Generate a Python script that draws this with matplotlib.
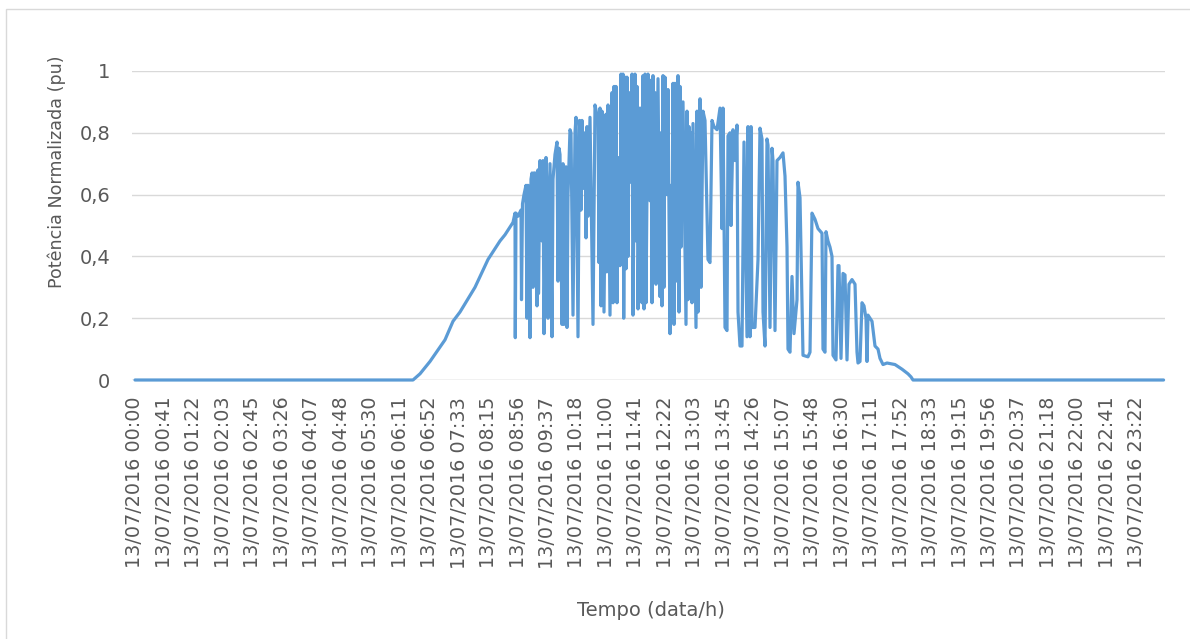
import matplotlib
matplotlib.use("Agg")
import matplotlib.pyplot as plt
from matplotlib.patches import Rectangle

# ---- data: time (minutes after 13/07/2016 00:00) and normalized power (pu)
tempo_min = [
    0, 389.2, 399, 413, 434, 445.2, 455, 476, 494.2, 511, 518,
    529.2, 532, 532.4, 533.4, 536.2, 540.4, 541.1, 542.5, 544.6, 547.4,
    548.8, 550.2, 551.6, 553, 554.4, 555.8, 557.2, 558.6, 560, 562.8,
    564.2, 564.9, 567, 569.8, 571.2, 572.6, 575.4, 576.8, 578.2, 581,
    583.8, 585.2, 588, 590.8, 592.2, 593.6, 595, 597.8, 599.2, 600.6,
    603.4, 604.8, 606.2, 609, 610.4, 613.2, 616, 617.4, 620.2, 622.3,
    624.4, 625.8, 627.2, 628.6,
    630, 631.4, 632.8, 634.2, 637, 641.2, 644, 648.2, 649.6, 651, 652.4, 653.8,
    656.6, 659.4, 660.4, 662.2, 665, 667.8, 669.2, 670.6, 672, 673.4,
    674.8, 676.2, 679, 680.4, 681.8, 683.2, 684.2, 686, 687.4, 688.8,
    690.2, 691.6, 693, 695.8, 697.2, 700, 701.4, 702.8, 704.2, 707,
    709.8, 711.2, 712.6, 714, 715.4, 718.2, 721, 722.4, 723.8, 725.2,
    726.6, 728, 729.4, 732.2, 735, 736.4, 737.8, 739.2, 740.6, 742,
    744.8, 746.2, 749, 750.4, 751.8, 753.2, 754.6, 756, 758.8, 760.2,
    761.6, 763, 764.4, 767.2, 771.4, 772.8, 774.2, 775.6, 777, 778.4,
    779.8, 781.2, 785.4, 786.8, 788.2, 791, 792.4, 795.2, 798, 802.2,
    805, 807.8, 810.6, 814.8, 819, 821.8, 823.2, 826, 828.8, 830.2,
    833, 834.4, 837.2, 840, 842.8, 844.2, 847, 849.8, 852.6, 856.8,
    858.2, 861, 862.4, 863.8, 868, 872.2, 875, 877.8, 879.2, 882,
    884.8, 886.2, 889, 891.8, 893.2, 896, 898.8, 903, 907.2, 910,
    912.8, 914.2, 917, 919.8, 922.6, 926.8, 928.2, 931, 933.8, 935.2,
    942.2, 945, 947.8, 952, 956.2, 961.8, 963.2, 966, 967.4, 970.2,
    973, 975.8, 977.2, 981.4, 984.2, 985.6, 988.4, 991.2, 994, 996.8,
    999.6, 1003.8, 1008, 1010.8, 1012.2, 1015, 1017.8, 1020.6, 1023.4, 1024.8,
    1026.2, 1029, 1031.8, 1036, 1040.2, 1043, 1047.2, 1052.8, 1064, 1073.8,
    1082.2, 1086.4, 1089.2, 1440,
]
potencia = [
    0, 0, 0.02, 0.06, 0.13, 0.19, 0.22, 0.30, 0.39, 0.45, 0.47,
    0.51, 0.54, 0.137, 0.54, 0.53, 0.55, 0.26, 0.57, 0.60, 0.63,
    0.20, 0.63, 0.40, 0.137, 0.65, 0.67, 0.30, 0.67, 0.67, 0.24,
    0.68, 0.28, 0.71, 0.45, 0.71, 0.15, 0.72, 0.62, 0.20, 0.70,
    0.14, 0.65, 0.73, 0.77, 0.32, 0.75, 0.73, 0.18, 0.70, 0.18,
    0.69, 0.17, 0.60, 0.81, 0.80, 0.21, 0.80, 0.85, 0.14, 0.84,
    0.55, 0.84, 0.62, 0.80,
    0.79, 0.46, 0.82, 0.53, 0.85, 0.18, 0.89, 0.84, 0.38, 0.88, 0.24, 0.87,
    0.22, 0.86, 0.35, 0.89, 0.21, 0.93, 0.25, 0.95, 0.30, 0.95,
    0.25, 0.72, 0.37, 0.99, 0.42, 0.99, 0.20, 0.98, 0.36, 0.98,
    0.40, 0.93, 0.64, 0.99, 0.21, 0.99, 0.45, 0.95, 0.23, 0.88,
    0.25, 0.985, 0.23, 0.99, 0.25, 0.99, 0.58, 0.97, 0.25, 0.985,
    0.38, 0.93, 0.31, 0.975, 0.27, 0.80, 0.24, 0.985, 0.30, 0.98,
    0.60, 0.94, 0.15, 0.63, 0.20, 0.96, 0.18, 0.96, 0.32, 0.985,
    0.22, 0.95, 0.43, 0.90, 0.18, 0.87, 0.26, 0.82, 0.30, 0.80,
    0.25, 0.83, 0.17, 0.87, 0.22, 0.91, 0.30, 0.87, 0.84, 0.39,
    0.38, 0.84, 0.82, 0.81, 0.88, 0.49, 0.88, 0.17, 0.16, 0.79,
    0.80, 0.50, 0.81, 0.71, 0.825, 0.22, 0.11, 0.11, 0.77, 0.14,
    0.82, 0.14, 0.82, 0.17, 0.17, 0.39, 0.815, 0.78, 0.22, 0.11,
    0.78, 0.76, 0.17, 0.75, 0.71, 0.16, 0.71, 0.72, 0.735, 0.66,
    0.43, 0.10, 0.09, 0.335, 0.15, 0.26, 0.64, 0.59, 0.26, 0.08,
    0.075, 0.09, 0.54, 0.52, 0.49, 0.475, 0.10, 0.09, 0.48, 0.45,
    0.43, 0.40, 0.08, 0.065, 0.37, 0.37, 0.07, 0.345, 0.34, 0.065,
    0.31, 0.325, 0.31, 0.09, 0.055, 0.06, 0.25, 0.24, 0.20, 0.06,
    0.21, 0.20, 0.19, 0.11, 0.10, 0.07, 0.05, 0.055, 0.05, 0.035,
    0.02, 0.01, 0, 0,
]
assert len(tempo_min) == len(potencia)

rotulos_x = [
    "13/07/2016 00:00", "13/07/2016 00:41", "13/07/2016 01:22", "13/07/2016 02:03",
    "13/07/2016 02:45", "13/07/2016 03:26", "13/07/2016 04:07", "13/07/2016 04:48",
    "13/07/2016 05:30", "13/07/2016 06:11", "13/07/2016 06:52", "13/07/2016 07:33",
    "13/07/2016 08:15", "13/07/2016 08:56", "13/07/2016 09:37", "13/07/2016 10:18",
    "13/07/2016 11:00", "13/07/2016 11:41", "13/07/2016 12:22", "13/07/2016 13:03",
    "13/07/2016 13:45", "13/07/2016 14:26", "13/07/2016 15:07", "13/07/2016 15:48",
    "13/07/2016 16:30", "13/07/2016 17:11", "13/07/2016 17:52", "13/07/2016 18:33",
    "13/07/2016 19:15", "13/07/2016 19:56", "13/07/2016 20:37", "13/07/2016 21:18",
    "13/07/2016 22:00", "13/07/2016 22:41", "13/07/2016 23:22",
]
intervalo_rotulo_min = 41.25
yticks = [0, 0.2, 0.4, 0.6, 0.8, 1.0]
yticklabels = ["0", "0,2", "0,4", "0,6", "0,8", "1"]

plt.rcParams["font.family"] = ["DejaVu Sans"]
txt = "#595959"

fig = plt.figure(figsize=(11.9, 6.39), dpi=100)
fig.patches.append(Rectangle((6 / 1190, -0.05), 1.1, 1 - 9 / 639 + 0.05,
                             transform=fig.transFigure, fill=False,
                             edgecolor="#d9d9d9", lw=1.0))
ax = fig.add_axes([132 / 1190, 1 - 380 / 639, (1165 - 132) / 1190, (380 - 71) / 639])

ax.plot(tempo_min, potencia, color="#5b9bd5", lw=2.3, clip_on=False,
        solid_joinstyle="round", solid_capstyle="round", zorder=3)

ax.set_ylim(0, 1)
ax.set_xlim(-4.2, 1442)
ax.set_yticks(yticks)
ax.set_yticklabels(yticklabels, fontsize=14, color=txt)
ax.set_xticks([i * intervalo_rotulo_min for i in range(len(rotulos_x))])
ax.set_xticklabels(rotulos_x, rotation=90, fontsize=13.8, color=txt)
ax.tick_params(axis="both", length=0)
ax.tick_params(axis="y", pad=15.5)
ax.tick_params(axis="x", pad=12)
ax.grid(axis="y", color="#d9d9d9", lw=1.0)
ax.grid(axis="x", visible=False)
for s in ax.spines.values():
    s.set_visible(False)
ax.axhline(0, color="#d9d9d9", lw=1.0, zorder=1)

fig.text(57 / 1190, 1 - 172 / 639, "Potência Normalizada (pu)", fontsize=12.6,
         color=txt, rotation=90, ha="center", va="center")
fig.text(651 / 1190, 1 - 610 / 639, "Tempo (data/h)", fontsize=14, color=txt,
         ha="center", va="center")

fig.savefig("out.png", dpi=100)
